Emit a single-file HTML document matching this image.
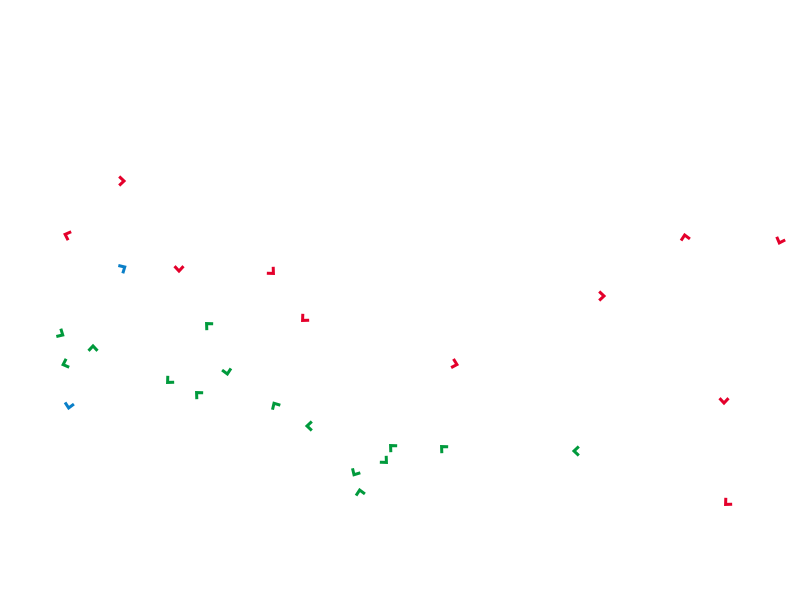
<!DOCTYPE html>
<html><head><style>body{margin:0;background:#fff}svg{display:block}</style></head><body>
<svg width="800" height="600" xmlns="http://www.w3.org/2000/svg">
<defs><polyline id="a" points="-2.8,-4.5 2,0 -2.8,4.5" fill="none" stroke-width="3" stroke-linejoin="miter"/></defs>
<g stroke="#e4002b">
<use href="#a" transform="translate(122,181) rotate(0)"/>
<use href="#a" transform="translate(67,235) rotate(-160)"/>
<use href="#a" transform="translate(179,269) rotate(90)"/>
<use href="#a" transform="translate(272,272) rotate(45)"/>
<use href="#a" transform="translate(685,237) rotate(-100)"/>
<use href="#a" transform="translate(780,241) rotate(110)"/>
<use href="#a" transform="translate(602,296) rotate(0)"/>
<use href="#a" transform="translate(304,319) rotate(135)"/>
<use href="#a" transform="translate(455,364) rotate(15)"/>
<use href="#a" transform="translate(724,401) rotate(90)"/>
<use href="#a" transform="translate(727,503) rotate(135)"/>
</g>
<g stroke="#0a7fc8">
<use href="#a" transform="translate(123,268) rotate(-30)"/>
<use href="#a" transform="translate(69,406) rotate(100)"/>
</g>
<g stroke="#009a3c">
<use href="#a" transform="translate(61,334) rotate(30)"/>
<use href="#a" transform="translate(93,348) rotate(-90)"/>
<use href="#a" transform="translate(208,325) rotate(-135)"/>
<use href="#a" transform="translate(65,364) rotate(160)"/>
<use href="#a" transform="translate(169,381) rotate(135)"/>
<use href="#a" transform="translate(227,372) rotate(80)"/>
<use href="#a" transform="translate(198,394) rotate(-135)"/>
<use href="#a" transform="translate(275,405) rotate(-120)"/>
<use href="#a" transform="translate(309,426) rotate(180)"/>
<use href="#a" transform="translate(392,447) rotate(-135)"/>
<use href="#a" transform="translate(443,448) rotate(-135)"/>
<use href="#a" transform="translate(576,451) rotate(180)"/>
<use href="#a" transform="translate(385,461) rotate(45)"/>
<use href="#a" transform="translate(355,473) rotate(120)"/>
<use href="#a" transform="translate(360,492) rotate(-100)"/>
</g>
</svg>
</body></html>
